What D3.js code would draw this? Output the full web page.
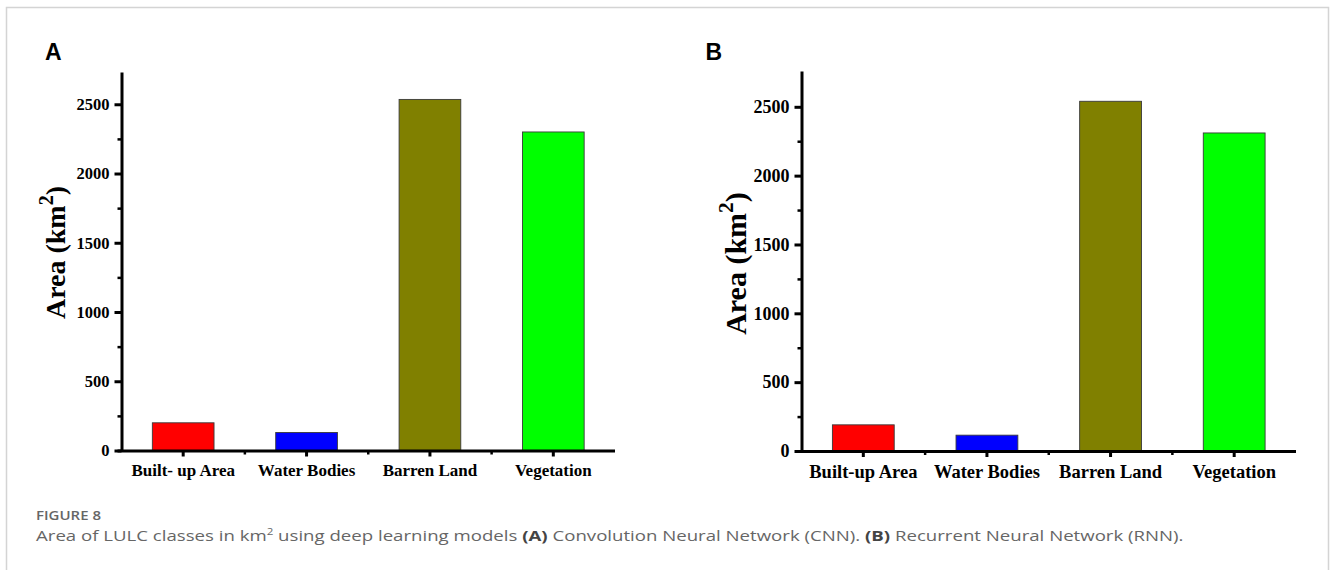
<!DOCTYPE html>
<html>
<head>
<meta charset="utf-8">
<script src="https://cdn.jsdelivr.net/npm/d3@7"></script>
<style>
  html, body { margin: 0; padding: 0; background: #fff; }
  svg { display: block; }
</style>
</head>
<body>
<svg id="fig" width="1330" height="570"></svg>
<script>
// LULC class areas (km²) estimated by the two deep learning models
const categoriesCNN = ["Built- up Area", "Water Bodies", "Barren Land", "Vegetation"];
const categoriesRNN = ["Built-up Area", "Water Bodies", "Barren Land", "Vegetation"];
const areaCNN = [200, 130, 2535, 2300];
const areaRNN = [190, 115, 2540, 2310];
const classColors = ["#ff0000", "#0000ff", "#808000", "#00ff00"];
const yMajorTicks = [0, 500, 1000, 1500, 2000, 2500];
const yMinorTicks = [250, 750, 1250, 1750, 2250];
const panelLetters = ["A", "B"];

const svg = d3.select("#fig");
const serif = "'Liberation Serif', 'Times New Roman', serif";
const sans = "'Liberation Sans', Arial, sans-serif";

// outer figure frame
svg.append("path")
  .attr("d", "M6.5,580 V7.5 H1328.5 V580")
  .attr("fill", "none")
  .attr("stroke", "#d4d4d4")
  .attr("stroke-width", 1.5);

const panels = [
  { letter: panelLetters[0], cats: categoriesCNN, vals: areaCNN,
    left: 121.5, right: 615, bottom: 450.5, top: 72, yMax: 2733,
    tickFont: 16.5, labelFont: 17, labelBase: 476,
    titleX: 65, titleY: 252.5, titleFont: 28, letterX: 45 },
  { letter: panelLetters[1], cats: categoriesRNN, vals: areaRNN,
    left: 801.5, right: 1296, bottom: 451, top: 71, yMax: 2760,
    tickFont: 18, labelFont: 18.5, labelBase: 478,
    titleX: 746, titleY: 263.5, titleFont: 30, letterX: 705.5 }
];

panels.forEach(p => {
  const g = svg.append("g");

  const x = d3.scaleBand()
    .domain(p.cats)
    .range([p.left, p.right])
    .paddingInner(0.5)
    .paddingOuter(0.25);

  const y = d3.scaleLinear()
    .domain([0, p.yMax])
    .range([p.bottom, p.top]);

  // bars
  g.selectAll("rect.bar")
    .data(p.cats)
    .join("rect")
    .attr("class", "bar")
    .attr("x", d => x(d))
    .attr("width", x.bandwidth())
    .attr("y", (d, i) => y(p.vals[i]))
    .attr("height", (d, i) => y(0) - y(p.vals[i]))
    .attr("fill", (d, i) => classColors[i])
    .attr("stroke", "#3a3a3a")
    .attr("stroke-width", 0.9);

  // y axis: minor ticks
  g.append("g")
    .attr("transform", `translate(${p.left},0)`)
    .call(d3.axisLeft(y).tickValues(yMinorTicks).tickSize(4).tickSizeOuter(0).tickFormat(""))
    .call(a => a.select(".domain").remove())
    .call(a => a.selectAll("line").attr("stroke", "#000").attr("stroke-width", 2.5));

  // y axis: major ticks and labels
  g.append("g")
    .attr("transform", `translate(${p.left},0)`)
    .call(d3.axisLeft(y).tickValues(yMajorTicks).tickFormat(d3.format("d"))
      .tickSize(7).tickSizeOuter(0).tickPadding(5))
    .call(a => a.select(".domain").attr("stroke", "#000").attr("stroke-width", 3))
    .call(a => a.selectAll("line").attr("stroke", "#000").attr("stroke-width", 3))
    .call(a => a.selectAll("text")
      .attr("font-family", serif).attr("font-weight", "bold")
      .attr("font-size", p.tickFont).attr("fill", "#000"));

  // x axis: minor ticks at the class boundaries
  const bounds = p.cats.slice(0, -1).map(c => x(c) + x.bandwidth() + x.step() * 0.25);
  g.append("g")
    .selectAll("line")
    .data(bounds)
    .join("line")
    .attr("x1", d => d).attr("x2", d => d)
    .attr("y1", p.bottom).attr("y2", p.bottom + 4)
    .attr("stroke", "#000").attr("stroke-width", 2.5);

  // x axis: major ticks and class labels
  g.append("g")
    .attr("transform", `translate(0,${p.bottom})`)
    .call(d3.axisBottom(x).tickSize(6).tickSizeOuter(0))
    .call(a => a.select(".domain")
      .attr("d", `M${p.left - 4},0.5H${p.right}`)
      .attr("stroke", "#000").attr("stroke-width", 3))
    .call(a => a.selectAll("line").attr("stroke", "#000").attr("stroke-width", 3))
    .call(a => a.selectAll("text")
      .attr("y", p.labelBase - p.bottom).attr("dy", null)
      .attr("font-family", serif).attr("font-weight", "bold")
      .attr("font-size", p.labelFont).attr("fill", "#000"));

  // y axis title
  const title = g.append("text")
    .attr("transform", `translate(${p.titleX},${p.titleY}) rotate(-90)`)
    .attr("text-anchor", "middle")
    .attr("font-family", serif)
    .attr("font-weight", "bold")
    .attr("font-size", p.titleFont)
    .attr("fill", "#000");
  title.append("tspan").text("Area (km");
  title.append("tspan").attr("font-size", p.titleFont * 0.72).attr("dy", -p.titleFont * 0.42).text("2");
  title.append("tspan").attr("dy", p.titleFont * 0.42).text(")");

  // panel letter
  g.append("text")
    .attr("x", p.letterX)
    .attr("y", 60)
    .attr("font-family", sans)
    .attr("font-weight", "bold")
    .attr("font-size", 23)
    .attr("fill", "#000")
    .text(p.letter);
});

// caption
const capFont = "'Open Sans', 'Noto Sans', sans-serif";
svg.append("text")
  .attr("x", 36).attr("y", 520)
  .attr("font-family", capFont)
  .attr("font-size", 12.5)
  .attr("font-weight", 600)
  .attr("fill", "#666")
  .attr("textLength", 65)
  .attr("lengthAdjust", "spacingAndGlyphs")
  .text("FIGURE 8");

const cap = svg.append("text")
  .attr("x", 36).attr("y", 541)
  .attr("font-family", capFont)
  .attr("font-size", 14.5)
  .attr("fill", "#666");
cap.append("tspan").text("Area of LULC classes in km");
cap.append("tspan").attr("font-size", 9).attr("dy", -6).text("2");
cap.append("tspan").attr("dy", 6).text(" using deep learning models ");
cap.append("tspan").attr("font-weight", "bold").attr("fill", "#444").text("(A)");
cap.append("tspan").text(" Convolution Neural Network (CNN). ");
cap.append("tspan").attr("font-weight", "bold").attr("fill", "#444").text("(B)");
cap.append("tspan").text(" Recurrent Neural Network (RNN).");

// widen the caption so that "(B)" starts where the layout places it
const capNode = cap.node();
const bStart = capNode.getStartPositionOfChar(capNode.textContent.indexOf("(B)")).x;
const total = capNode.getComputedTextLength();
const scale = (865 - 36) / (bStart - 36);
cap.attr("textLength", total * scale).attr("lengthAdjust", "spacingAndGlyphs");
</script>
</body>
</html>
